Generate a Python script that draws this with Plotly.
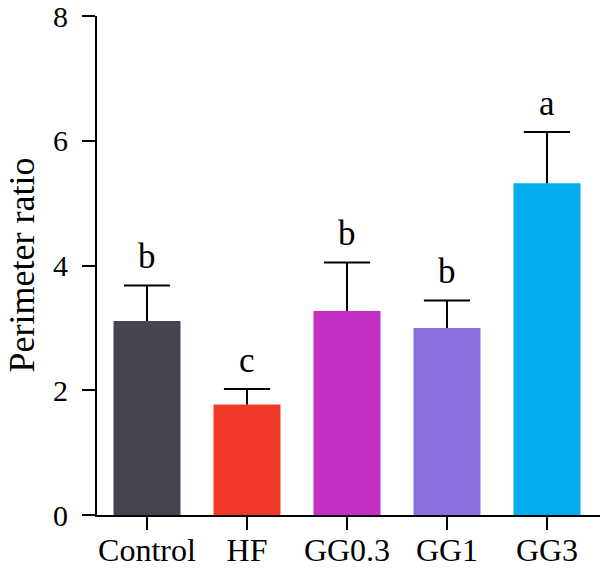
import plotly.graph_objects as go

categories = ["Control", "HF", "GG0.3", "GG1", "GG3"]
means = [3.11, 1.77, 3.27, 3.00, 5.32]
errors = [0.57, 0.25, 0.78, 0.44, 0.82]
letters = ["b", "c", "b", "b", "a"]
colors = ["#46454F", "#F1392A", "#C32EC3", "#8B6FE0", "#00AEEF"]
y_title = "Perimeter ratio"

font_family = "Liberation Serif"
tops = [m + e for m, e in zip(means, errors)]

fig = go.Figure()
fig.add_trace(go.Bar(
    x=categories, y=means,
    marker=dict(color=colors, line=dict(width=0)),
    width=0.67,
    error_y=dict(type="data", symmetric=False, array=errors,
                 arrayminus=[0] * len(errors),
                 color="black", thickness=2, width=0),
    showlegend=False,
))
# error bar caps
fig.add_trace(go.Scatter(
    x=categories, y=tops, mode="markers",
    marker=dict(symbol="line-ew", size=33, color="black",
                line=dict(color="black", width=2)),
    showlegend=False, hoverinfo="skip",
))

for c, top, t in zip(categories, tops, letters):
    fig.add_annotation(x=c, y=top, text=t, showarrow=False,
                       yanchor="bottom", yshift=7,
                       font=dict(family=font_family, size=35, color="black"))

# y-axis title
fig.add_annotation(xref="paper", yref="paper", x=0, y=0.5, text=y_title,
                   textangle=-90, showarrow=False, xanchor="center",
                   yanchor="middle", xshift=-76,
                   font=dict(family=font_family, size=36, color="black"))

fig.update_layout(
    width=600, height=569,
    margin=dict(l=97, r=0, t=16, b=54),
    paper_bgcolor="white", plot_bgcolor="white",
    font=dict(family=font_family, size=30, color="black"),
)
fig.update_xaxes(
    range=[-0.5, 4.53], showline=True, linecolor="black", linewidth=2,
    ticks="outside", ticklen=13, tickwidth=2, tickcolor="black",
    showgrid=False, zeroline=False, automargin=False,
    ticklabeloverflow="allow", ticklabelstandoff=-7,
    tickfont=dict(family=font_family, size=32),
)
fig.update_yaxes(
    range=[0, 8], tickvals=[0, 2, 4, 6, 8], showline=True, linecolor="black",
    linewidth=2, ticks="outside", ticklen=13, tickwidth=2, tickcolor="black",
    showgrid=False, zeroline=False, ticklabelstandoff=8, automargin=False,
    ticklabeloverflow="allow",
    tickfont=dict(family=font_family, size=30),
)
fig.write_html("out.html")
